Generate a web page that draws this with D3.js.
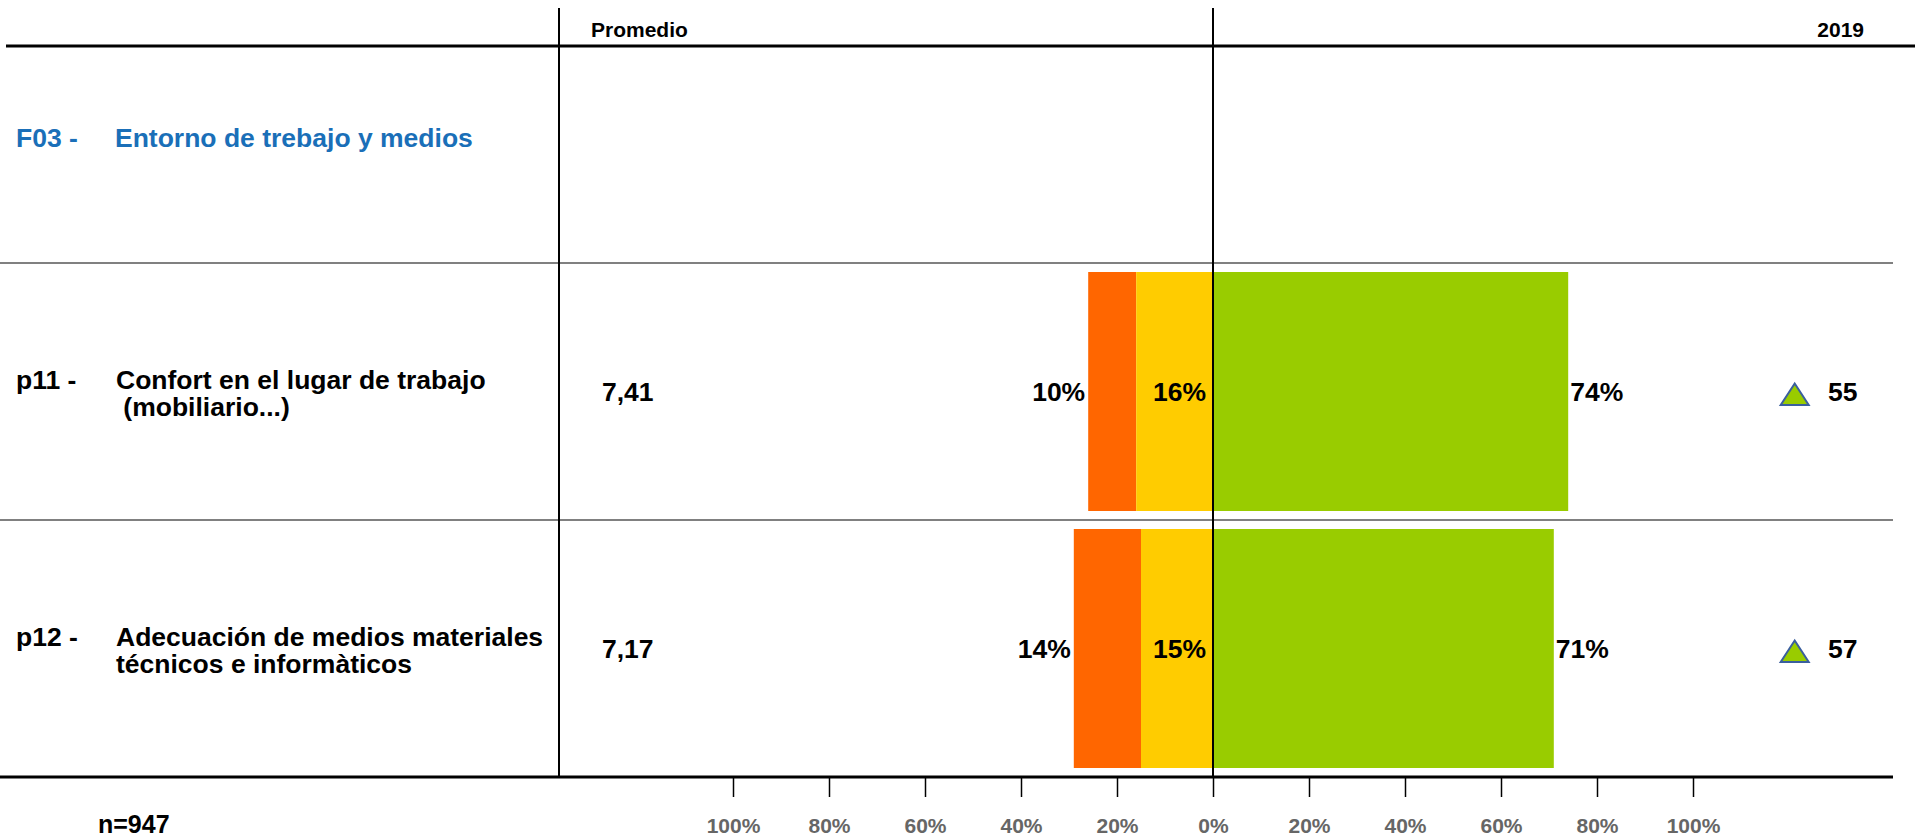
<!DOCTYPE html>
<html>
<head>
  <meta charset="utf-8">
  <title>F03 - Entorno de trebajo y medios</title>
  <script src="https://d3js.org/d3.v7.min.js"></script>
  <style>
    body { margin:0; background:#fff; }
    text { font-family:"Liberation Sans", Arial, Helvetica, sans-serif; font-weight:bold; white-space:pre; }
  </style>
</head>
<body>
<script>
  var w = 1915;
  var h = 839;

  // data
  var factorCode = "F03 -";
  var factorName = "Entorno de trebajo y medios";
  var codes = ["p11 -", "p12 -"];
  var labels = [["Confort en el lugar de trabajo", " (mobiliario...)"], ["Adecuación de medios materiales", "técnicos e informàticos"]];
  var promedio = ["7,41", "7,17"];
  var bad = [10, 14];      // orange
  var mid = [16, 15];      // yellow
  var good = [74, 71];     // green
  var score2019 = [55, 57];
  var ticks = [-100, -80, -60, -40, -20, 0, 20, 40, 60, 80, 100];
  var nText = "n=947";

  var rows = codes.map(function(c, i){
    return {code:c, label:labels[i], prom:promedio[i], bad:bad[i], mid:mid[i], good:good[i], y19:score2019[i]};
  });

  var svg = d3.select("body").append("svg").attr("width", w).attr("height", h);

  var x = d3.scaleLinear().domain([-100, 100]).range([733, 1693]);
  var y = d3.scaleBand().domain(codes).range([263, 777]);

  var headY = 46, axisY = 777, colLine = 559;

  // bars
  var barPad = 9;
  var bars = svg.append("g");
  bars.selectAll(".bad").data(rows).enter().append("rect")
    .attr("x", function(d){ return x(-(d.bad + d.mid)); })
    .attr("width", function(d){ return x(-d.mid) - x(-(d.bad + d.mid)); })
    .attr("y", function(d){ return y(d.code) + barPad; })
    .attr("height", y.bandwidth() - 2*barPad)
    .attr("fill", "#ff6600");
  bars.selectAll(".mid").data(rows).enter().append("rect")
    .attr("x", function(d){ return x(-d.mid); })
    .attr("width", function(d){ return x(0) - x(-d.mid); })
    .attr("y", function(d){ return y(d.code) + barPad; })
    .attr("height", y.bandwidth() - 2*barPad)
    .attr("fill", "#ffcc00");
  bars.selectAll(".good").data(rows).enter().append("rect")
    .attr("x", x(0))
    .attr("width", function(d){ return x(d.good) - x(0); })
    .attr("y", function(d){ return y(d.code) + barPad; })
    .attr("height", y.bandwidth() - 2*barPad)
    .attr("fill", "#99cc00");

  // grid lines
  svg.append("line").attr("x1", 6).attr("x2", w).attr("y1", headY).attr("y2", headY)
    .attr("stroke", "#000").attr("stroke-width", 3);
  svg.selectAll(".sep").data(codes).enter().append("line")
    .attr("x1", 0).attr("x2", 1893)
    .attr("y1", function(d){ return y(d); }).attr("y2", function(d){ return y(d); })
    .attr("stroke", "#808080").attr("stroke-width", 2);
  svg.append("line").attr("x1", colLine).attr("x2", colLine).attr("y1", 8).attr("y2", axisY)
    .attr("stroke", "#000").attr("stroke-width", 2);
  svg.append("line").attr("x1", x(0)).attr("x2", x(0)).attr("y1", 8).attr("y2", axisY)
    .attr("stroke", "#000").attr("stroke-width", 2);

  // axis
  var axis = d3.axisBottom(x).tickValues(ticks).tickSize(20)
    .tickFormat(function(d){ return Math.abs(d) + "%"; });
  var ag = svg.append("g").attr("transform", "translate(0," + axisY + ")").call(axis);
  ag.select(".domain").remove();
  ag.selectAll(".tick line").attr("stroke", "#000").attr("stroke-width", 1.5);
  ag.selectAll(".tick text").attr("y", 56).attr("dy", null)
    .attr("fill", "#666666").style("font-size", "21px")
    .style("font-family", "'Liberation Sans', Arial, sans-serif").style("font-weight", "bold");
  svg.append("line").attr("x1", 0).attr("x2", 1893).attr("y1", axisY).attr("y2", axisY)
    .attr("stroke", "#000").attr("stroke-width", 3);

  // headers
  svg.append("text").attr("x", 591).attr("y", 37).style("font-size", "21px").text("Promedio");
  svg.append("text").attr("x", 1864).attr("y", 37).attr("text-anchor", "end").style("font-size", "21px").text("2019");

  // factor title
  svg.append("text").attr("x", 16).attr("y", 147).attr("fill", "#1a6fb8").style("font-size", "26.5px").text(factorCode);
  svg.append("text").attr("x", 115).attr("y", 147).attr("fill", "#1a6fb8").style("font-size", "26.5px").text(factorName);

  // row texts
  var rg = svg.selectAll(".row").data(rows).enter().append("g")
    .attr("transform", function(d){ return "translate(0," + (y(d.code) + y.bandwidth()/2) + ")"; })
    .style("font-size", "26.5px");

  rg.append("text").attr("x", 16).attr("y", -12).attr("dy", "0.35em").text(function(d){ return d.code; });
  rg.append("text").attr("x", 116).attr("y", -12).attr("dy", "0.35em").text(function(d){ return d.label[0]; });
  rg.append("text").attr("x", 116).attr("y", 15).attr("dy", "0.35em").text(function(d){ return d.label[1]; });
  rg.append("text").attr("x", 602).attr("dy", "0.35em").text(function(d){ return d.prom; });

  rg.append("text").attr("x", function(d){ return x(-(d.bad + d.mid)) - 3; })
    .attr("text-anchor", "end").attr("dy", "0.35em").text(function(d){ return d.bad + "%"; });
  rg.append("text").attr("x", function(d){ return x(0) - 7; })
    .attr("text-anchor", "end").attr("dy", "0.35em").text(function(d){ return d.mid + "%"; });
  rg.append("text").attr("x", function(d){ return x(d.good) + 2; })
    .attr("dy", "0.35em").text(function(d){ return d.good + "%"; });

  // 2019 triangle + value
  rg.append("path")
    .attr("d", "M1794.7,-8 L1808.7,13.5 L1780.7,13.5 Z")
    .attr("fill", "#99cc00").attr("stroke", "#3a5f9e").attr("stroke-width", 2);
  rg.append("text").attr("x", 1828).attr("dy", "0.35em").text(function(d){ return d.y19; });

  // n
  svg.append("text").attr("x", 98).attr("y", 833).style("font-size", "25px").text(nText);
</script>
</body>
</html>
